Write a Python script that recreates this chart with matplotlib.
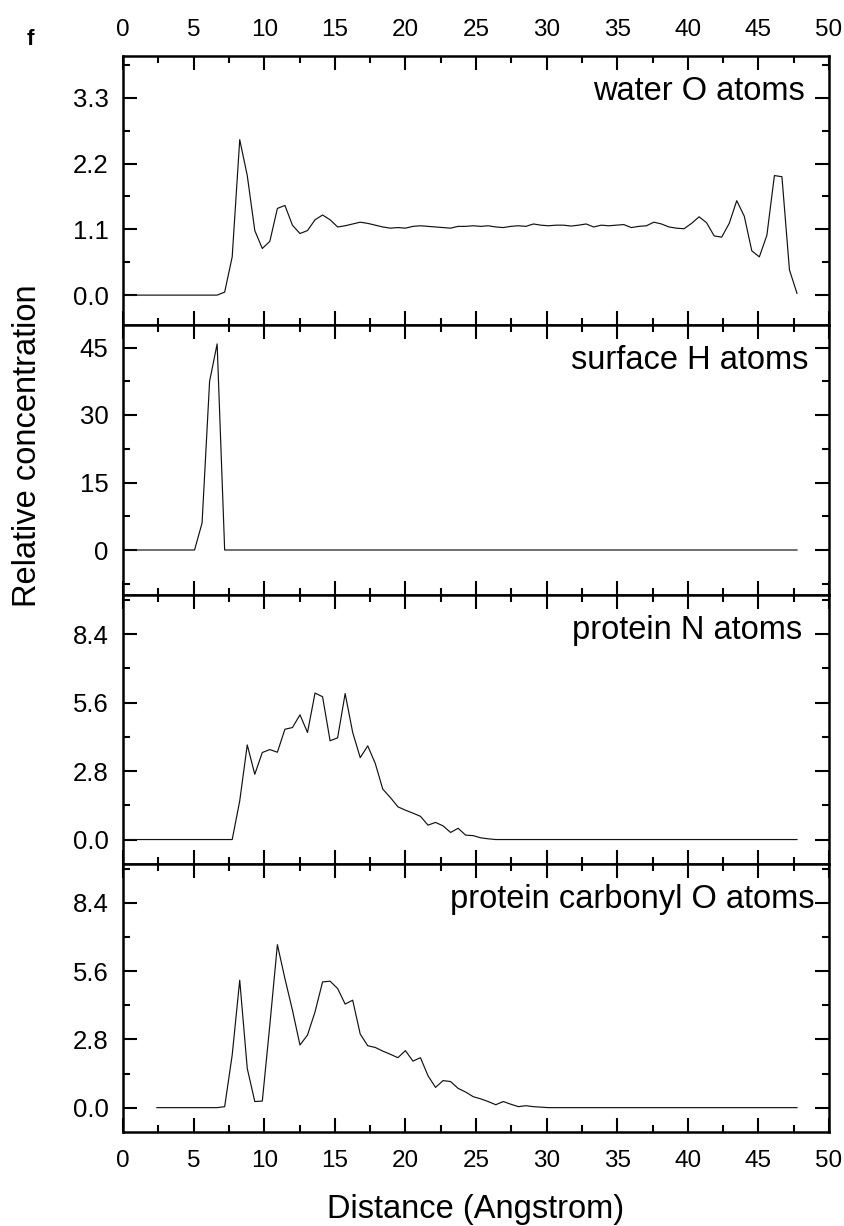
import numpy as np
import matplotlib
matplotlib.use("Agg")
import matplotlib.pyplot as plt
from matplotlib.ticker import MultipleLocator, FixedLocator, FormatStrFormatter

plt.rcParams['font.family'] = ['Liberation Sans', 'DejaVu Sans']

# ---------------- data ----------------
bin_width = 48.0 / 90.0
distance = (np.arange(90) + 0.5) * bin_width          # bin centres (Angstrom)

water_O = [0.0] * 13 + [
    0.05, 0.64, 2.60, 2.00, 1.08, 0.78, 0.90, 1.45, 1.50, 1.17,
    1.03, 1.08, 1.26, 1.34, 1.26, 1.14, 1.16, 1.19, 1.22, 1.20,
    1.17, 1.14, 1.12, 1.13, 1.12, 1.15, 1.16, 1.15, 1.14, 1.13,
    1.12, 1.15, 1.15, 1.16, 1.15, 1.16, 1.14, 1.13, 1.15, 1.16,
    1.15, 1.19, 1.17, 1.16, 1.17, 1.17, 1.155, 1.17, 1.19, 1.14,
    1.17, 1.16, 1.17, 1.18, 1.13, 1.15, 1.16, 1.22, 1.19, 1.14,
    1.12, 1.11, 1.20, 1.31, 1.21, 0.99, 0.97, 1.20, 1.58, 1.32,
    0.74, 0.64, 1.00, 2.00, 1.98, 0.42, 0.03]

surface_H = [0.0] * 10 + [6.0, 37.5, 45.8] + [0.0] * 77

protein_N = [0.0] * 15 + [
    1.58, 3.87, 2.67, 3.56, 3.68, 3.57, 4.51, 4.58, 5.10, 4.38,
    5.99, 5.84, 4.04, 4.16, 5.97, 4.38, 3.35, 3.83, 3.11, 2.06,
    1.72, 1.34, 1.20, 1.08, 0.95, 0.59, 0.70, 0.56, 0.29, 0.46,
    0.18, 0.16, 0.07, 0.03] + [0.0] * 41

carbonyl_start = 4
carbonyl_O = [0.0] * 9 + [
    0.04, 2.16, 5.23, 1.61, 0.25, 0.27, 3.40, 6.69, 5.30, 4.00,
    2.57, 2.98, 3.93, 5.16, 5.19, 4.89, 4.25, 4.41, 3.02, 2.54,
    2.47, 2.32, 2.19, 2.05, 2.34, 1.91, 2.05, 1.31, 0.83, 1.11,
    1.07, 0.79, 0.64, 0.45, 0.36, 0.25, 0.12, 0.25, 0.14, 0.04,
    0.08, 0.04, 0.02] + [0.0] * 34

panel_names = ["water O atoms", "surface H atoms", "protein N atoms",
               "protein carbonyl O atoms"]
panel_yticks = [[0.0, 1.1, 2.2, 3.3], [0, 15, 30, 45],
                [0.0, 2.8, 5.6, 8.4], [0.0, 2.8, 5.6, 8.4]]
panel_minor = [0.55, 7.5, 1.4, 1.4]
panel_ylim = [(-0.5, 4.0), (-10, 50), (-1, 10), (-1, 10)]
panel_fmt = ['%.1f', '%d', '%.1f', '%.1f']
x_ticks = [0, 5, 10, 15, 20, 25, 30, 35, 40, 45, 50]

series_x = [distance, distance, distance, distance[carbonyl_start:]]
series_y = [water_O, surface_H, protein_N, carbonyl_O]

# ---------------- layout ----------------
W, H = 844, 1226
fig = plt.figure(figsize=(W / 100, H / 100), dpi=100)
left_px, right_px = 123, 829
edges_px = [56, 325, 595, 864, 1132]
label_right_px = [805, 808, 802, 815]

axes = []
for k in range(4):
    top, bot = edges_px[k], edges_px[k + 1]
    ax = fig.add_axes([left_px / W, 1 - bot / H, (right_px - left_px) / W, (bot - top) / H])
    axes.append(ax)
    ax.plot(series_x[k], series_y[k], color='#111111', lw=0.85)
    ax.set_xlim(0, 50)
    ax.set_ylim(*panel_ylim[k])
    ax.xaxis.set_major_locator(FixedLocator(x_ticks))
    ax.xaxis.set_minor_locator(MultipleLocator(2.5))
    ax.yaxis.set_major_locator(FixedLocator(panel_yticks[k]))
    ax.yaxis.set_minor_locator(MultipleLocator(panel_minor[k]))
    ax.yaxis.set_major_formatter(FormatStrFormatter(panel_fmt[k]))
    ax.tick_params(which='both', direction='in', top=True, right=True,
                   bottom=True, left=True, width=1.5,
                   labelbottom=(k == 3), labeltop=(k == 0))
    ax.tick_params(which='major', length=10)
    ax.tick_params(which='minor', length=5)
    ax.tick_params(axis='y', pad=10.5, labelsize=18.5)
    ax.tick_params(axis='x', labelsize=17.5)
    if k == 0:
        ax.tick_params(axis='x', pad=11)
    if k == 3:
        ax.tick_params(axis='x', pad=13)
    for s in ax.spines.values():
        s.set_linewidth(1.8)
    ax.text((label_right_px[k] - left_px) / (right_px - left_px), 1 - 44 / 269,
            panel_names[k], transform=ax.transAxes, ha='right', va='baseline',
            fontsize=23.5)

fig.text(((left_px + right_px) / 2) / W, 1 - 1218 / H, "Distance (Angstrom)",
         ha='center', va='baseline', fontsize=23.5)
fig.text(28 / W, 1 - 446 / H, "Relative concentration", rotation=90,
         ha='center', va='center', fontsize=23.5)
fig.text(30 / W, 1 - 45 / H, "f", ha='center', va='baseline',
         fontsize=16, fontweight='bold')

fig.savefig("out.png", dpi=100)
